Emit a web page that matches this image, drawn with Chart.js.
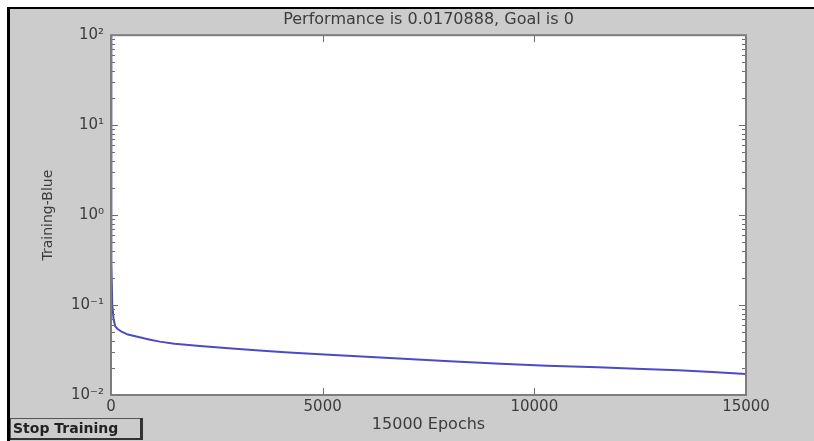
<!DOCTYPE html>
<html>
<head>
<meta charset="utf-8">
<script src="https://cdn.jsdelivr.net/npm/chart.js@4.4.1/dist/chart.umd.min.js"></script>
<style>
  html, body { margin: 0; padding: 0; background: #ffffff; }
  canvas { display: block; }
</style>
</head>
<body>
<canvas id="perf" width="814" height="441"></canvas>
<script>
// Training record: epoch number and mean squared error at that epoch
const epochs = [0, 3, 8, 15, 30, 60, 100, 150, 250, 400, 500, 700, 900, 1150, 1500, 2100, 2700, 3500, 4200, 5150, 6800, 8000, 9200, 10300, 11500, 12400, 13400, 14200, 15000];
const trainingPerf = [100, 8, 1.2, 0.3, 0.1, 0.07, 0.058, 0.0545, 0.0505, 0.047, 0.0458, 0.0435, 0.0415, 0.0392, 0.0372, 0.035, 0.0333, 0.0312, 0.0297, 0.028, 0.0255, 0.0238, 0.0222, 0.0212, 0.0203, 0.0196, 0.0188, 0.0180, 0.0170888];

// Axis ticks
const xTickValues = [0, 5000, 10000, 15000];
const yDecades = [0.01, 0.1, 1, 10, 100];
const yTickLabels = ['10\u207B\u00B2', '10\u207B\u00B9', '10\u2070', '10\u00B9', '10\u00B2'];

// Texts
const titleText = 'Performance is 0.0170888, Goal is 0';
const xTitleText = '15000 Epochs';
const yTitleText = 'Training-Blue';
const buttonText = 'Stop Training';

const FONT = 'DejaVu Sans';
const TEXT = '#3c3c3c';
const FIGURE_GREY = '#cccccc';

// Window frame, grey figure and white axes background
const figurePlugin = {
  id: 'figure',
  beforeDraw(chart) {
    const { ctx, chartArea: a } = chart;
    ctx.save();
    ctx.fillStyle = '#ffffff';
    ctx.fillRect(0, 0, chart.width, chart.height);
    ctx.fillStyle = '#000000';
    ctx.fillRect(7, 7, chart.width - 7, 2);
    ctx.fillRect(7, 7, 3, chart.height - 7);
    ctx.fillStyle = FIGURE_GREY;
    ctx.fillRect(10, 9, chart.width - 10, chart.height - 9);
    ctx.fillStyle = '#ffffff';
    ctx.fillRect(a.left, a.top, a.right - a.left, a.bottom - a.top);
    ctx.restore();
  },
  afterDatasetsDraw(chart) {
    const { ctx, chartArea: a, scales } = chart;
    const xs = scales.x, ys = scales.y;
    ctx.save();
    // inward tick marks on all four sides
    ctx.strokeStyle = '#6e6e6e';
    ctx.lineWidth = 1;
    ctx.beginPath();
    xTickValues.forEach(v => {
      const px = Math.round(xs.getPixelForValue(v)) + 0.5;
      ctx.moveTo(px, a.bottom); ctx.lineTo(px, a.bottom - 7);
      ctx.moveTo(px, a.top); ctx.lineTo(px, a.top + 7);
    });
    for (let d = 0; d < yDecades.length; d++) {
      const base = yDecades[d];
      const py = Math.round(ys.getPixelForValue(base)) + 0.5;
      ctx.moveTo(a.left, py); ctx.lineTo(a.left + 7, py);
      ctx.moveTo(a.right, py); ctx.lineTo(a.right - 7, py);
      if (d < yDecades.length - 1) {
        for (let m = 2; m <= 9; m++) {
          const pm = Math.round(ys.getPixelForValue(base * m)) + 0.5;
          ctx.moveTo(a.left, pm); ctx.lineTo(a.left + 4, pm);
          ctx.moveTo(a.right, pm); ctx.lineTo(a.right - 4, pm);
        }
      }
    }
    ctx.stroke();
    // axes box
    ctx.strokeStyle = '#7d7d7d';
    ctx.lineWidth = 2;
    ctx.strokeRect(a.left, a.top, a.right - a.left, a.bottom - a.top);
    ctx.restore();
  },
  afterDraw(chart) {
    // "Stop Training" push button
    const { ctx } = chart;
    const bx = 10, by = 418, bw = 133, bh = 22;
    ctx.save();
    ctx.fillStyle = FIGURE_GREY;
    ctx.fillRect(bx, by, bw, bh);
    ctx.strokeStyle = '#555555';
    ctx.lineWidth = 1;
    ctx.strokeRect(bx + 0.5, by + 0.5, bw - 1, bh - 1);
    ctx.fillStyle = '#333333';
    ctx.fillRect(bx + bw - 3, by, 3, bh);
    ctx.fillRect(bx, by + bh - 2, bw, 2);
    ctx.fillStyle = '#222222';
    ctx.font = 'bold 14px "' + FONT + '"';
    ctx.textBaseline = 'middle';
    ctx.textAlign = 'left';
    ctx.fillText(buttonText, bx + 3, by + bh / 2);
    ctx.restore();
  }
};

new Chart(document.getElementById('perf'), {
  type: 'line',
  data: {
    datasets: [{
      label: yTitleText,
      data: epochs.map((e, i) => ({ x: e, y: trainingPerf[i] })),
      borderColor: '#4b4bc8',
      borderWidth: 2,
      pointRadius: 0,
      tension: 0,
      fill: false
    }]
  },
  options: {
    responsive: false,
    animation: false,
    devicePixelRatio: 1,
    layout: { padding: { left: 0, right: 68, top: 0, bottom: 0 } },
    plugins: {
      legend: { display: false },
      tooltip: { enabled: false },
      title: {
        display: true,
        text: titleText,
        fullSize: false,
        color: TEXT,
        font: { family: FONT, size: 16, weight: 'normal' },
        padding: { top: 10, bottom: 6 }
      }
    },
    scales: {
      x: {
        type: 'linear',
        min: 0,
        max: 15000,
        afterBuildTicks: s => { s.ticks = xTickValues.map(v => ({ value: v })); },
        afterFit: s => { s.height = 46; },
        grid: { display: false, drawTicks: false },
        border: { display: false },
        ticks: {
          color: TEXT,
          font: { family: FONT, size: 15 },
          padding: 3,
          maxRotation: 0,
          callback: v => String(v)
        },
        title: {
          display: true,
          text: xTitleText,
          color: TEXT,
          font: { family: FONT, size: 16 },
          padding: { top: 0, bottom: 7 }
        }
      },
      y: {
        type: 'logarithmic',
        min: 0.01,
        max: 100,
        afterBuildTicks: s => { s.ticks = yDecades.map(v => ({ value: v, major: true })); },
        afterFit: s => { s.width = 111; },
        grid: { display: false, drawTicks: false },
        border: { display: false },
        ticks: {
          color: TEXT,
          font: { family: FONT, size: 15 },
          padding: 7,
          callback: (v, i) => yTickLabels[i]
        },
        title: {
          display: true,
          text: yTitleText,
          color: TEXT,
          font: { family: FONT, size: 14 },
          padding: { top: 40, bottom: 0 }
        }
      }
    }
  },
  plugins: [figurePlugin]
});
</script>
</body>
</html>
